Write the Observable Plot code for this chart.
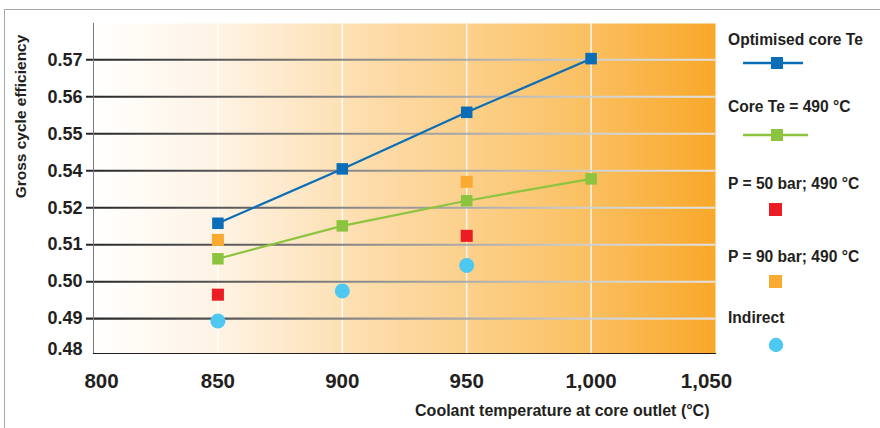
<!DOCTYPE html>
<html>
<head>
<meta charset="utf-8">
<script src="https://cdn.jsdelivr.net/npm/d3@7"></script>
<script src="https://cdn.jsdelivr.net/npm/@observablehq/plot@0.6"></script>
<style>
  html, body { margin: 0; padding: 0; background: #fff; }
  #wrap { position: relative; width: 880px; height: 428px; overflow: hidden;
          font-family: "Liberation Sans", Arial, Helvetica, sans-serif; color: #231f20; }
  #border { position: absolute; left: 4px; top: 9px; width: 900px; height: 440px;
            border-top: 1.5px solid #a3abae; border-left: 1.5px solid #a3abae; }
  #chart { position: absolute; left: 0; top: 0; }
  .leg { position: absolute; left: 728px; font-weight: bold; font-size: 15.6px; line-height: 18px; white-space: nowrap; }
  .sym { position: absolute; }
</style>
</head>
<body>
<div id="wrap">
  <div id="border"></div>
  <div id="chart"></div>
  <div id="legend"></div>
</div>
<script>
// ---- data ----
const yTickLabels = [0.48, 0.49, 0.50, 0.51, 0.52, 0.54, 0.55, 0.56, 0.57];
const xTicks = [800, 850, 900, 950, 1000, 1050];

const optimisedTemps = [850, 900, 950, 1000];
const optimisedEff = [0.5158, 0.5405, 0.5558, 0.5703];

const core490Temps = [850, 900, 950, 1000];
const core490Eff = [0.5062, 0.5151, 0.5238, 0.5356];

const p50Temps = [850, 950];
const p50Eff = [0.4965, 0.5124];

const p90Temps = [850, 950];
const p90Eff = [0.5113, 0.5340];

const indirectTemps = [850, 900, 950];
const indirectEff = [0.4894, 0.4975, 0.5044];

const seriesNames = ["Optimised core Te", "Core Te = 490 °C", "P = 50 bar; 490 °C", "P = 90 bar; 490 °C", "Indirect"];
const seriesColors = ["#0a6db7", "#8cc43f", "#ec1c24", "#f9ab31", "#4dc8f1"];

// ---- axis mapping: tick labels are evenly spaced on the original axis ----
const toIdx = d3.scaleLinear(yTickLabels, d3.range(yTickLabels.length));
const rows = (temps, effs) => temps.map((t, i) => ({t, y: toIdx(effs[i])}));

const optimised = rows(optimisedTemps, optimisedEff);
const core490 = rows(core490Temps, core490Eff);
const p50 = rows(p50Temps, p50Eff);
const p90 = rows(p90Temps, p90Eff);
const indirect = rows(indirectTemps, indirectEff);

const fmtX = d3.format(",");
const font = '"Liberation Sans", Arial, Helvetica, sans-serif';
const ink = "#231f20";

function defs(index, scales, values, dimensions, context) {
  const doc = context.document;
  const ns = "http://www.w3.org/2000/svg";
  const d = doc.createElementNS(ns, "defs");
  const x0 = dimensions.marginLeft - 7;
  const x1 = dimensions.width - dimensions.marginRight;
  d.innerHTML = `
    <linearGradient id="bgGrad" x1="0" y1="0" x2="1" y2="0">
      <stop offset="0" stop-color="#ffffff"/>
      <stop offset="0.2" stop-color="#fef3e4"/>
      <stop offset="0.45" stop-color="#fddcaa"/>
      <stop offset="0.75" stop-color="#fbc46c"/>
      <stop offset="1" stop-color="#f8a82a"/>
    </linearGradient>
    <linearGradient id="gridGrad" gradientUnits="userSpaceOnUse" x1="${x0}" y1="0" x2="${x1}" y2="0">
      <stop offset="0" stop-color="#262626"/>
      <stop offset="0.45" stop-color="#8e8e8e"/>
      <stop offset="0.8" stop-color="#cfcfcf"/>
      <stop offset="1" stop-color="#e2e2e2"/>
    </linearGradient>`;
  return d;
}

const chart = Plot.plot({
  width: 880,
  height: 428,
  marginLeft: 93,
  marginRight: 165,
  marginTop: 23,
  marginBottom: 75,
  style: {fontFamily: font, color: ink, background: "transparent"},
  x: {domain: [800, 1050], axis: null},
  y: {domain: [0.06, 8.98], axis: null},
  marks: [
    defs,
    Plot.frame({fill: "url(#bgGrad)", stroke: null}),
    Plot.ruleX(optimisedTemps, {x: d => d, stroke: "#ffffff", strokeWidth: 1.3}),
    Plot.ruleY(d3.range(1, yTickLabels.length), {y: d => d, stroke: "url(#gridGrad)", strokeWidth: 2.2, insetLeft: -7}),
    Plot.frame({anchor: "left", stroke: "#7a7a7a", strokeWidth: 1}),
    Plot.frame({anchor: "bottom", stroke: ink, strokeWidth: 1.2}),
    // y tick labels
    Plot.text(d3.range(1, yTickLabels.length), {y: d => d, text: d => yTickLabels[d].toFixed(2), frameAnchor: "left", textAnchor: "end", dx: -11, fontSize: 18, fontWeight: "bold", fill: ink}),
    Plot.text([0], {y: d => d, text: d => yTickLabels[d].toFixed(2), frameAnchor: "left", textAnchor: "end", lineAnchor: "bottom", dx: -11, dy: -1, fontSize: 18, fontWeight: "bold", fill: ink}),
    // x tick labels
    Plot.text(xTicks.slice(1, -1), {x: d => d, text: d => fmtX(d), frameAnchor: "bottom", dy: 34, fontSize: 20.5, fontWeight: "bold", fill: ink}),
    Plot.text(xTicks.slice(0, 1), {x: d => d, text: d => fmtX(d), frameAnchor: "bottom", dy: 34, dx: 8, fontSize: 20.5, fontWeight: "bold", fill: ink}),
    Plot.text(xTicks.slice(-1), {x: d => d, text: d => fmtX(d), frameAnchor: "bottom", dy: 34, dx: -9, fontSize: 20.5, fontWeight: "bold", fill: ink}),
    // axis titles
    Plot.text(["Coolant temperature at core outlet (°C)"], {frameAnchor: "bottom-right", textAnchor: "end", dx: -6, dy: 62, fontSize: 16, fontWeight: "bold", fill: ink}),
    Plot.text(["Gross cycle efficiency"], {frameAnchor: "top-left", rotate: -90, textAnchor: "middle", dx: -79, dy: 93, fontSize: 15.5, fontWeight: "bold", fill: ink}),
    // series
    Plot.line(optimised, {x: "t", y: "y", stroke: seriesColors[0], strokeWidth: 2.2}),
    Plot.line(core490, {x: "t", y: "y", stroke: seriesColors[1], strokeWidth: 2.2}),
    Plot.dot(optimised, {x: "t", y: "y", symbol: "square", r: 6.5, fill: seriesColors[0], stroke: null}),
    Plot.dot(core490, {x: "t", y: "y", symbol: "square", r: 6.5, fill: seriesColors[1], stroke: null}),
    Plot.dot(p50, {x: "t", y: "y", symbol: "square", r: 6.8, fill: seriesColors[2], stroke: null}),
    Plot.dot(p90, {x: "t", y: "y", symbol: "square", r: 6.8, fill: seriesColors[3], stroke: null}),
    Plot.dot(indirect, {x: "t", y: "y", symbol: "circle", r: 7.5, fill: seriesColors[4], stroke: null})
  ]
});
document.getElementById("chart").appendChild(chart);

// ---- legend ----
const legendTextTop = [31, 98, 175, 248, 309];
const legendSymTop = [63, 135, 209, 281, 345];
const legendKinds = ["line-square", "line-square", "square", "square", "circle"];
const lg = document.getElementById("legend");
seriesNames.forEach((name, i) => {
  const t = document.createElement("div");
  t.className = "leg";
  t.style.top = legendTextTop[i] + "px";
  t.textContent = name;
  lg.appendChild(t);
  const s = document.createElementNS("http://www.w3.org/2000/svg", "svg");
  s.setAttribute("class", "sym");
  s.setAttribute("width", 70);
  s.setAttribute("height", 16);
  s.style.left = "742px";
  s.style.top = (legendSymTop[i] - 8) + "px";
  const c = seriesColors[i];
  let inner = "";
  if (legendKinds[i] === "line-square") {
    inner += `<line x1="1" x2="${i === 0 ? 61 : 66}" y1="8" y2="8" stroke="${c}" stroke-width="2.4"/>`;
    inner += `<rect x="29" y="2" width="12" height="12" fill="${c}"/>`;
  } else if (legendKinds[i] === "square") {
    inner += `<rect x="27" y="2" width="13" height="13" fill="${c}"/>`;
  } else {
    inner += `<circle cx="34" cy="8" r="7.2" fill="${c}"/>`;
  }
  s.innerHTML = inner;
  lg.appendChild(s);
});
</script>
</body>
</html>
